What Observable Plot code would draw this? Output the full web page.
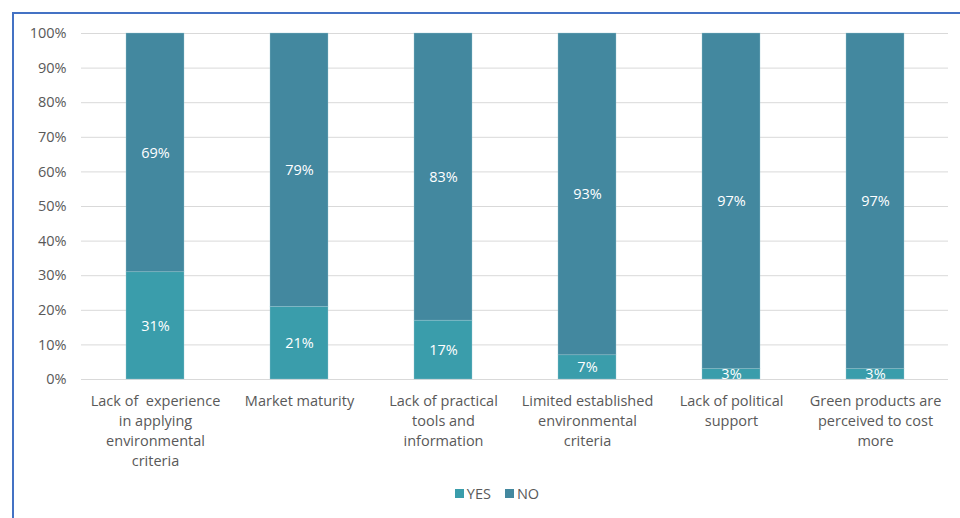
<!DOCTYPE html>
<html>
<head>
<meta charset="utf-8">
<script src="https://cdn.jsdelivr.net/npm/d3@7"></script>
<script src="https://cdn.jsdelivr.net/npm/@observablehq/plot@0.6"></script>
<style>
  html, body { margin: 0; padding: 0; background: #fff; }
  body { width: 960px; height: 518px; position: relative; overflow: hidden; font-family: "Open Sans", "Liberation Sans", sans-serif; }
  #frame { position: absolute; left: 12px; top: 12px; width: 960px; height: 520px; border-top: 2px solid #4472c4; border-left: 2px solid #4472c4; pointer-events: none; }
  #chart { position: absolute; left: 0; top: 0; }
  #chart svg { display: block; }
  #legend { position: absolute; top: 484px; left: 0; width: 994px; display: flex; justify-content: center; gap: 14px; font-size: 14.5px; color: #595959; }
  #legend span { display: inline-flex; align-items: center; }
  #legend i { display: inline-block; width: 9px; height: 9px; margin-right: 3px; }
</style>
</head>
<body>
<div id="chart"></div>
<div id="legend"></div>
<div id="frame"></div>
<script>
const categories = [
  "Lack of  experience in applying environmental criteria",
  "Market maturity",
  "Lack of practical tools and information",
  "Limited established environmental criteria",
  "Lack of political support",
  "Green products are perceived to cost more"
];
const tickLabels = [
  "Lack of  experience\nin applying\nenvironmental\ncriteria",
  "Market maturity",
  "Lack of practical\ntools and\ninformation",
  "Limited established\nenvironmental\ncriteria",
  "Lack of political\nsupport",
  "Green products are\nperceived to cost\nmore"
];
const yesValues = [0.31, 0.21, 0.17, 0.07, 0.03, 0.03];
const noValues = [0.69, 0.79, 0.83, 0.93, 0.97, 0.97];
const series = ["YES", "NO"];
const colors = ["#3a9dab", "#43889f"];

const rows = [];
categories.forEach((c, i) => {
  rows.push({category: c, answer: "YES", value: yesValues[i]});
  rows.push({category: c, answer: "NO", value: noValues[i]});
});
const labelOf = new Map(categories.map((c, i) => [c, tickLabels[i]]));

const chart = Plot.plot({
  width: 960,
  height: 470,
  marginTop: 33,
  marginBottom: 91,
  marginLeft: 81,
  marginRight: 12,
  style: {fontFamily: "'Open Sans', 'Liberation Sans', sans-serif", fontSize: "14.5px", color: "#595959", background: "transparent"},
  x: {domain: categories, paddingInner: 0.6, paddingOuter: 0.3, label: null},
  y: {domain: [0, 1], label: null},
  color: {domain: series, range: colors},
  marks: [
    Plot.gridY(d3.range(0, 1.0001, 0.1), {stroke: "#d9d9d9", strokeOpacity: 1, strokeWidth: 1}),
    Plot.axisY(d3.range(0, 1.0001, 0.1), {tickSize: 0, tickPadding: 15, tickFormat: d3.format(".0%"), fontSize: 14.5, fill: "#595959", label: null}),
    Plot.axisX({tickSize: 0, tickPadding: 12, tickFormat: d => labelOf.get(d), lineHeight: 1.38, fontSize: 14.5, fill: "#595959", label: null}),
    Plot.barY(rows, {x: "category", y: "value", fill: "answer", stroke: "#9cc9d3", strokeWidth: 0.6, strokeOpacity: 0.6}),
    Plot.text(rows, Plot.stackY({x: "category", y: "value", z: "answer", text: d => Math.round(d.value * 100) + "%", fill: "white", fontSize: 14.5, fontWeight: 500}))
  ]
});
document.getElementById("chart").appendChild(chart);

const legend = document.getElementById("legend");
series.forEach((s, i) => {
  const span = document.createElement("span");
  span.innerHTML = `<i style="background:${colors[i]}"></i>${s}`;
  legend.appendChild(span);
});
</script>
</body>
</html>
